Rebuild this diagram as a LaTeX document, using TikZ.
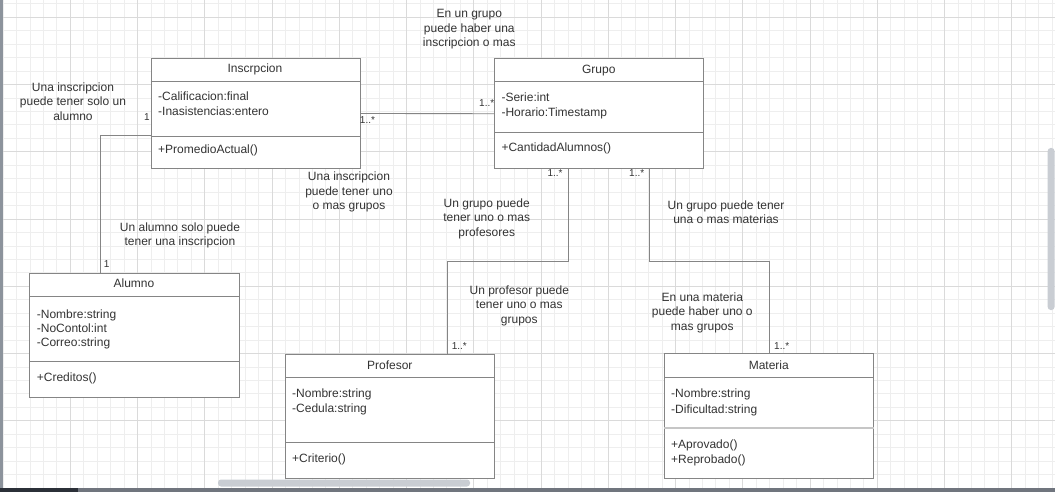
\documentclass[tikz,border=0pt]{standalone}
\usepackage{fontspec}
\setmainfont{Liberation Sans}
\definecolor{gridminor}{HTML}{EEEEEE}
\definecolor{gridmajor}{HTML}{DADADA}
\definecolor{boxline}{HTML}{858585}
\definecolor{ink}{HTML}{333333}
\definecolor{lightrule}{HTML}{C6C6C6}
\definecolor{sidebar}{HTML}{8C939C}
\definecolor{barfill}{HTML}{70757E}
\definecolor{bardark}{HTML}{2B3038}
\definecolor{thumb}{HTML}{C9CDD3}
\newcommand\umlfont{\fontsize{12}{14.5}\selectfont}
\newcommand\multfont{\fontsize{10}{12}\selectfont}
\tikzset{
  classbox/.style={draw=boxline, line width=0.9pt, fill=white, inner sep=0pt, anchor=north west},
  boxrule/.style={draw=boxline, line width=0.9pt},
  classtitle/.style={text=ink, font=\umlfont, anchor=base, inner sep=0pt},
  member/.style={text=ink, font=\umlfont, anchor=base west, inner sep=0pt},
  note/.style={text=ink, font=\umlfont, align=center, inner sep=0pt},
  mult/.style={text=ink, font=\multfont, inner sep=0pt},
  conn/.style={draw=boxline, line width=0.9pt},
}
\begin{document}
\begin{tikzpicture}[x=1pt,y=-1pt]
\useasboundingbox (0,0) rectangle (1055,492);
\fill[white] (0,0) rectangle (1055,492);

% canvas grid
\foreach \k in {-5,...,73}
  \draw[gridminor, line width=0.9pt] ({70.3+13.45*\k},0) -- ({70.3+13.45*\k},492);
\foreach \k in {-1,...,35}
  \draw[gridminor, line width=0.9pt] (0,{17.3+13.45*\k}) -- (1055,{17.3+13.45*\k});
\foreach \k in {0,...,14}
  \draw[gridmajor, line width=0.9pt] ({70.3+67.25*\k},0) -- ({70.3+67.25*\k},492);
\foreach \k in {0,...,7}
  \draw[gridmajor, line width=0.9pt] (0,{17.3+67.25*\k}) -- (1055,{17.3+67.25*\k});

% window chrome
\fill[sidebar] (0,0) rectangle (3,488);
\fill[barfill] (0,487.5) rectangle (1055,492);
\fill[bardark] (0,487.5) rectangle (78,492);
\fill[thumb, rounded corners=3pt] (218,479.5) rectangle (470,486.5);
\fill[thumb, rounded corners=3pt] (1047.7,148) rectangle (1054.5,310);

% class Inscrpcion
\node[classbox, minimum width=209pt, minimum height=110pt] (insc) at (150.5,58) {};
\draw[boxrule] ([yshift=-23.7pt]insc.north west) -- ([yshift=-23.7pt]insc.north east);
\draw[boxrule] ([yshift=-78.7pt]insc.north west) -- ([yshift=-78.7pt]insc.north east);
\node[classtitle] (inscT) at (255,72.5) {Inscrpcion};
\node[member] (inscA1) at (158,101) {-Calificacion:final};
\node[member] (inscA2) at (158,116) {-Inasistencias:entero};
\node[member] (inscM1) at (158,153.2) {+PromedioActual()};

% class Grupo
\node[classbox, minimum width=209pt, minimum height=110pt] (grupo) at (494.3,58.3) {};
\draw[boxrule] ([yshift=-22.7pt]grupo.north west) -- ([yshift=-22.7pt]grupo.north east);
\draw[boxrule] ([yshift=-74pt]grupo.north west) -- ([yshift=-74pt]grupo.north east);
\node[classtitle] (grupoT) at (598.8,73.3) {Grupo};
\node[member] (grupoA1) at (501.3,102) {-Serie:int};
\node[member] (grupoA2) at (501.3,116.7) {-Horario:Timestamp};
\node[member] (grupoM1) at (501.3,151.7) {+CantidadAlumnos()};

% class Alumno
\node[classbox, minimum width=209.4pt, minimum height=124.3pt] (alum) at (29.3,273) {};
\draw[boxrule] ([yshift=-23.7pt]alum.north west) -- ([yshift=-23.7pt]alum.north east);
\draw[boxrule] ([yshift=-88.3pt]alum.north west) -- ([yshift=-88.3pt]alum.north east);
\node[classtitle] (alumT) at (134,287.6) {Alumno};
\node[member] (alumA1) at (36.7,318) {-Nombre:string};
\node[member] (alumA2) at (36.7,332.3) {-NoContol:int};
\node[member] (alumA3) at (36.7,346.7) {-Correo:string};
\node[member] (alumM1) at (36.7,381.7) {+Creditos()};

% class Profesor
\node[classbox, minimum width=209pt, minimum height=124pt] (prof) at (285.3,354) {};
\draw[boxrule] ([yshift=-23.3pt]prof.north west) -- ([yshift=-23.3pt]prof.north east);
\draw[boxrule] ([yshift=-88.3pt]prof.north west) -- ([yshift=-88.3pt]prof.north east);
\node[classtitle] (profT) at (389.8,369) {Profesor};
\node[member] (profA1) at (292,397.7) {-Nombre:string};
\node[member] (profA2) at (292,412.7) {-Cedula:string};
\node[member] (profM1) at (292,462.7) {+Criterio()};

% class Materia
\node[classbox, minimum width=209pt, minimum height=124.7pt] (mat) at (664.3,353.3) {};
\draw[boxrule] ([yshift=-24pt]mat.north west) -- ([yshift=-24pt]mat.north east);
\draw[lightrule, line width=1.6pt] ([yshift=-74.7pt]mat.north west) -- ([yshift=-74.7pt]mat.north east);
\node[classtitle] (matT) at (768.8,369.3) {Materia};
\node[member] (matA1) at (671,397.3) {-Nombre:string};
\node[member] (matA2) at (671,413) {-Dificultad:string};
\node[member] (matM1) at (671,448.7) {+Aprovado()};
\node[member] (matM2) at (671,463.3) {+Reprobado()};

% associations
\draw[conn] ([yshift=-22pt]insc.west) -| ([xshift=-34pt]alum.north);
\draw[conn] (insc.east) -- (grupo.west);
\draw[conn] ([xshift=-30.8pt]grupo.south) -- ++(0,92.4) -| ([xshift=57.5pt]prof.north);
\draw[conn] ([xshift=50.2pt]grupo.south) -- ++(0,92.4) -| (mat.north);

% multiplicities
\node[mult] (m1) at (147,117.5) {1};
\node[mult] (m2) at (106.7,264) {1};
\node[mult] (m3) at (367.5,120.5) {1..*};
\node[mult] (m4) at (486.7,102.7) {1..*};
\node[mult] (m5) at (555,173.3) {1..*};
\node[mult] (m6) at (636.7,173.3) {1..*};
\node[mult] (m7) at (459.3,346) {1..*};
\node[mult] (m8) at (781.7,345.7) {1..*};

% notes
\node[note] (n1) at (469.3,29.5) {En un grupo\\puede haber una\\inscripcion o mas};
\node[note] (n2) at (73,101.5) {Una inscripcion\\puede tener solo un\\alumno};
\node[note] (n3) at (349,192) {Una inscripcion\\puede tener uno\\o mas grupos};
\node[note] (n4) at (180,235.3) {Un alumno solo puede\\tener una inscripcion};
\node[note] (n5) at (486.7,218.5) {Un grupo puede\\tener uno o mas\\profesores};
\node[note] (n6) at (519.3,305.5) {Un profesor puede\\tener uno o mas\\grupos};
\node[note] (n7) at (726,212) {Un grupo puede tener\\una o mas materias};
\node[note] (n8) at (702.3,312.5) {En una materia\\puede haber uno o\\mas grupos};
\end{tikzpicture}
\end{document}
